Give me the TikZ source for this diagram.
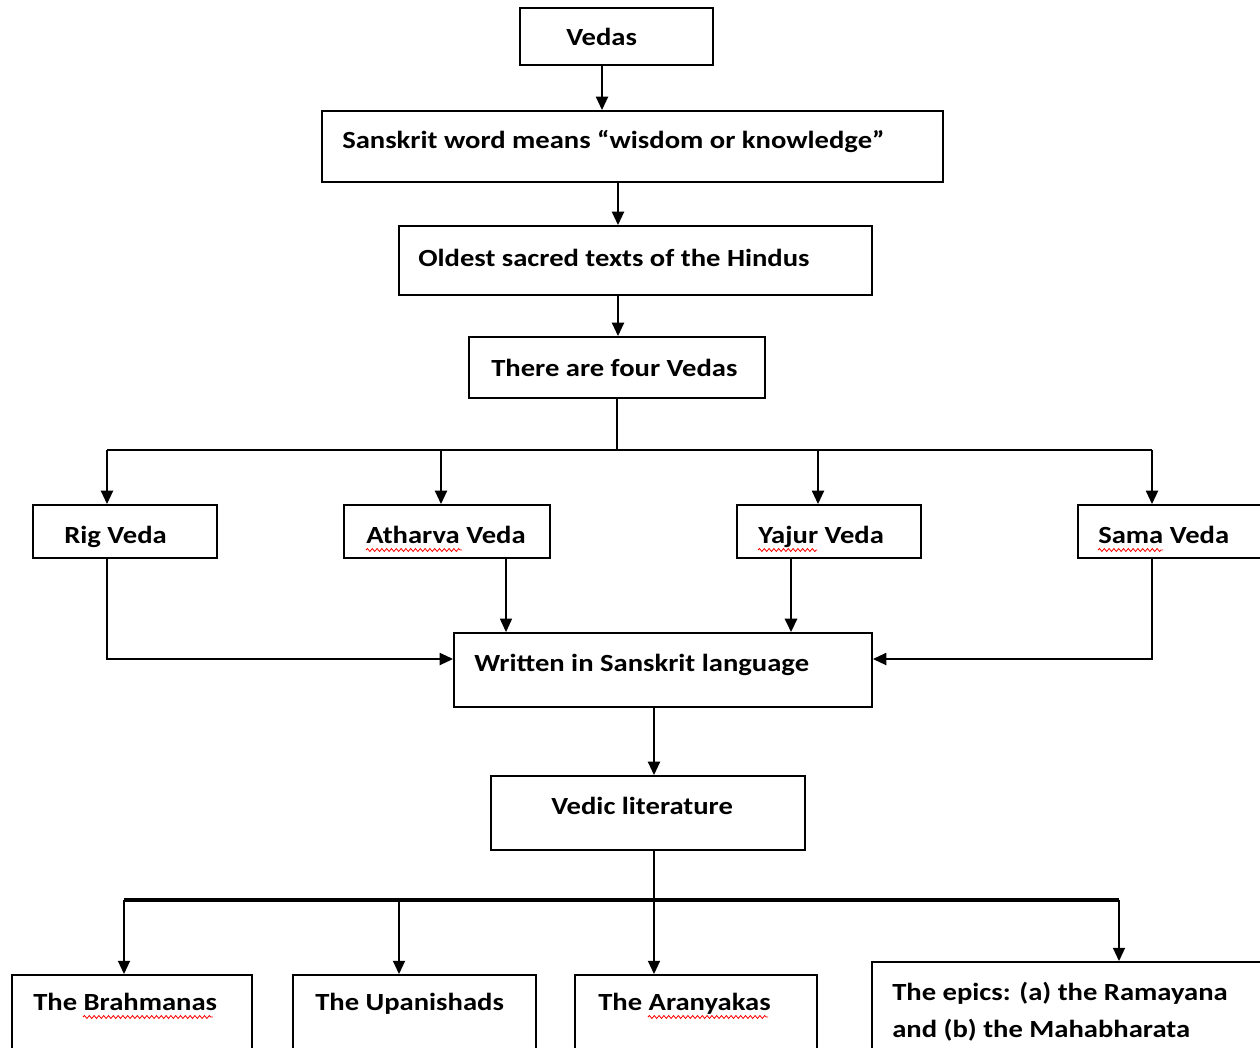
\documentclass[tikz,border=0pt]{standalone}
\usepackage{fontspec}
\setmainfont{Carlito}[FakeStretch=1.16]
\usetikzlibrary{arrows.meta,fit,decorations.pathmorphing}
\begin{document}
\begin{tikzpicture}[x=0.75pt,y=-0.75pt,
  box/.style={draw, line width=1.4pt, inner sep=0pt},
  lbl/.style={anchor=base west, inner sep=0pt, font=\fontsize{18.5}{22}\selectfont\bfseries},
  ln/.style={line width=1.4pt},
  arr/.style={line width=1.4pt, -{Triangle[length=10pt,width=9pt]}},
  wavy/.style={red, line width=0.6pt, decorate, decoration={snake, amplitude=1.1pt, segment length=3.6pt}}]
\useasboundingbox (0,0) rectangle (1260,1047);
\clip (0,0) rectangle (1260,1047);

% boxes
\node[box, fit={(520,8) (713,65)}] (vedas) {};
\node[box, fit={(322,111) (943,182)}] (sanskrit) {};
\node[box, fit={(399,226) (872,295)}] (oldest) {};
\node[box, fit={(469,337) (765,398)}] (four) {};
\node[box, fit={(33,505) (217,558)}] (rig) {};
\node[box, fit={(344,505) (550,558)}] (atharva) {};
\node[box, fit={(737,505) (921,558)}] (yajur) {};
\node[box, fit={(1078,505) (1290,558)}] (sama) {};
\node[box, fit={(454,633) (872,707)}] (written) {};
\node[box, fit={(491,776) (805,850)}] (vedic) {};
\node[box, fit={(12,975) (252,1070)}] (brahmanas) {};
\node[box, fit={(293,975) (536,1070)}] (upanishads) {};
\node[box, fit={(575,975) (817,1070)}] (aranyakas) {};
\node[box, fit={(872,962) (1290,1070)}] (epics) {};

% labels
\node[lbl] (vedas-t) at (566,45) {Vedas};
\node[lbl] (sanskrit-t) at (342,148) {Sanskrit word means “wisdom or knowledge”};
\node[lbl] (oldest-t) at (418,266) {Oldest sacred texts of the Hindus};
\node[lbl] (four-t) at (491,376) {There are four Vedas};
\node[lbl] (rig-t) at (64,543) {Rig Veda};
\node[lbl] (atharva-t) at (366,543) {Atharva Veda};
\node[lbl] (yajur-t) at (758,543) {Yajur Veda};
\node[lbl] (sama-t) at (1098,543) {Sama Veda};
\node[lbl] (written-t) at (474,671) {Written in Sanskrit language};
\node[lbl] (vedic-t) at (551,814) {Vedic literature};
\node[lbl] (brahmanas-t) at (33,1010) {The Brahmanas};
\node[lbl] (upanishads-t) at (315,1010) {The Upanishads};
\node[lbl] (aranyakas-t) at (598,1010) {The Aranyakas};
\node[lbl] (epics-t1) at (892,1000) {The epics: (a) the Ramayana};
\node[lbl] (epics-t2) at (892,1037) {and (b) the Mahabharata};

% spelling marks under words
\draw[wavy] (366,550) -- (462,550);
\draw[wavy] (758,550) -- (817,550);
\draw[wavy] (1098,550) -- (1163,550);
\draw[wavy] (83,1017) -- (213,1017);
\draw[wavy] (648,1017) -- (768,1017);

% column and junction coordinates
\coordinate (x602) at (602,0);
\coordinate (x618) at (618,0);
\coordinate (x506) at (506,0);
\coordinate (x791) at (791,0);
\coordinate (x654) at (654,0);
\coordinate (j659) at (0,659);
\coordinate (busA) at (617,450);
\coordinate (busAL) at (107,450);
\coordinate (busA2) at (441,450);
\coordinate (busA3) at (818,450);
\coordinate (busAR) at (1152,450);
\coordinate (busB) at (654,900);
\coordinate (busBL) at (124,900);
\coordinate (busB2) at (399,900);
\coordinate (busBR) at (1119,900);

% top chain
\draw[arr] (vedas.south -| x602) -- (sanskrit.north -| x602);
\draw[arr] (sanskrit.south -| x618) -- (oldest.north -| x618);
\draw[arr] (oldest.south -| x618) -- (four.north -| x618);

% split to the four Vedas
\draw[ln] (four.south -| busA) -- (busA);
\draw[ln] (busAL) -- (busAR);
\draw[arr] (busAL) -- (rig.north -| busAL);
\draw[arr] (busA2) -- (atharva.north -| busA2);
\draw[arr] (busA3) -- (yajur.north -| busA3);
\draw[arr] (busAR) -- (sama.north -| busAR);

% merge into the language box
\draw[arr] (rig.south -| busAL) |- (written.west |- j659);
\draw[arr, line width=0.9pt] (atharva.south -| x506) -- (written.north -| x506);
\draw[arr, line width=2.2pt] (yajur.south -| x791) -- (written.north -| x791);
\draw[arr] (sama.south -| busAR) |- (written.east |- j659);

\draw[arr] (written.south -| x654) -- (vedic.north -| x654);

% split to the literature
\draw[ln] (vedic.south -| x654) -- (busB);
\draw[line width=2.6pt] (busBL) -- (busBR);
\draw[arr] (busBL) -- (brahmanas.north -| busBL);
\draw[arr] (busB2) -- (upanishads.north -| busB2);
\draw[arr] (busB) -- (aranyakas.north -| busB);
\draw[arr] (busBR) -- (epics.north -| busBR);
\end{tikzpicture}
\end{document}
